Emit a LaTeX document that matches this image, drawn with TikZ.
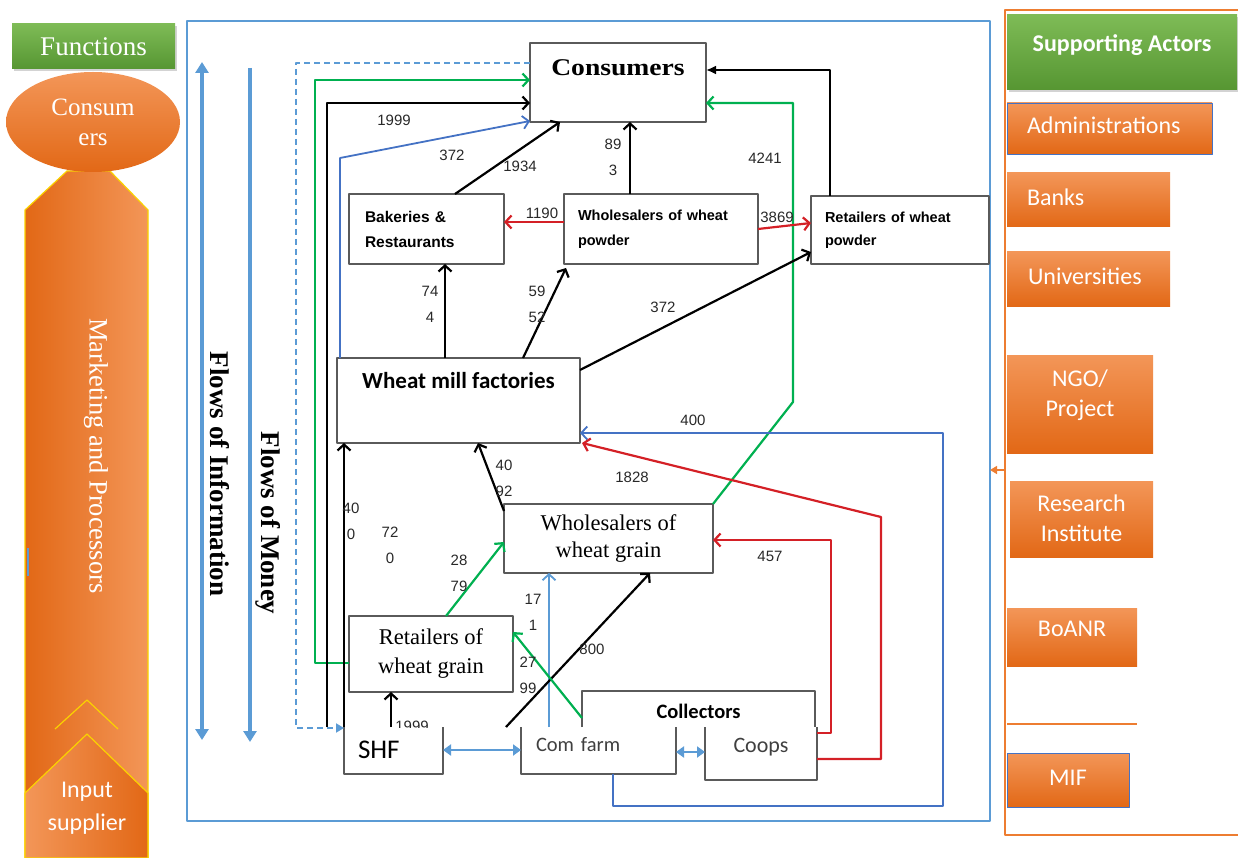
\documentclass[tikz,border=0pt]{standalone}
\usepackage{graphicx}
\usepackage{fontspec}
\setmainfont{Liberation Serif}
\setsansfont{Carlito}
\newfontfamily\arialfont{Liberation Sans}
\usetikzlibrary{arrows.meta, shapes.geometric, shadows}

\definecolor{frameblue}{RGB}{91,155,213}
\definecolor{linkblue}{RGB}{68,114,196}
\definecolor{flowgreen}{RGB}{0,176,80}
\definecolor{flowred}{RGB}{212,32,38}
\definecolor{boxgray}{RGB}{90,90,90}
\definecolor{numgray}{RGB}{40,40,40}
\definecolor{textgray}{RGB}{64,64,64}
\definecolor{orlight}{RGB}{243,150,88}
\definecolor{ordark}{RGB}{226,104,22}
\definecolor{orline}{RGB}{237,125,49}
\definecolor{grlight}{RGB}{126,187,86}
\definecolor{grdark}{RGB}{86,150,50}
\definecolor{edgeyellow}{RGB}{250,210,0}

\begin{document}
\begin{tikzpicture}[
        x = 1pt, y = -1pt, % one unit per pixel, y runs down
        > = {Straight Barb[length=6pt,width=13pt]}, % open arrow head
        line join = round,
        thick % line style
    ]

    \tikzstyle{every node}=[inner sep = 0pt, outer sep = 0pt]
    \tikzstyle{box}=[draw = boxgray, line width = 1.4pt, fill = white, rectangle]
    \tikzstyle{lowbox}=[fill = white, rectangle]
    \tikzstyle{side}=[draw = boxgray, line width = 1.4pt]
    \tikzstyle{num}=[font = \arialfont\fontsize{15}{26}\selectfont, text = numgray, align = center]
    \tikzstyle{blk}=[draw = black, line width = 2.2pt]
    \tikzstyle{grn}=[draw = flowgreen, line width = 2.2pt]
    \tikzstyle{rd}=[draw = flowred, line width = 2.2pt]
    \tikzstyle{blu}=[draw = linkblue, line width = 1.8pt]
    \tikzstyle{lblu}=[draw = frameblue, line width = 1.8pt]
    \tikzstyle{flow}=[draw = frameblue, line width = 3.5pt, > = {Triangle[length=11pt,width=13pt]}]
    \tikzstyle{dbl}=[draw = frameblue, line width = 2.2pt, > = {Triangle[length=8pt,width=11pt]}, <->]
    \tikzstyle{head}=[rectangle, top color = grlight, bottom color = grdark, text = white,
        drop shadow = {opacity = 0.35, shadow xshift = 2pt, shadow yshift = -2pt}]
    \tikzstyle{actor}=[rectangle, top color = orlight, bottom color = ordark, text = white,
        font = \sffamily\fontsize{24}{30}\selectfont]
    \tikzstyle{oneline}=[text height = 16pt, text depth = 5pt]

    \useasboundingbox (0,0) rectangle (1238,858);

    % function column on the left
    \path[draw = edgeyellow, line width = 1.2pt, left color = ordark, right color = orlight]
        (25,210) -- (67,171) -- (110,171) -- (148,210) -- (148,858) -- (25,858) -- cycle;
    \draw[edgeyellow, line width = 1.2pt] (55,729) -- (87,700) -- (118,729);
    \path[draw = edgeyellow, line width = 1.2pt, left color = orlight, right color = ordark]
        (25,793) -- (87,734) -- (148,793) -- (148,858) -- (25,858) -- cycle;
    \draw[frameblue, line width = 1.5pt] (28,548) -- (28,576);
    \node (fun) [head, minimum width = 163pt, minimum height = 45pt, font = \fontsize{27}{30}\selectfont] at (93.5,46.5) {Functions};
    \node (csm) [ellipse, top color = orlight, bottom color = ordark, minimum width = 174pt, minimum height = 100pt,
        align = center, text = white, font = \fontsize{25}{30}\selectfont] at (93,122) {Consum\\ers};
    \node (mkt) [rotate = -90, text = white, font = \fontsize{26.5}{30}\selectfont] at (96,456) {Marketing and Processors};
    \node (inp) [align = center, text = white, font = \sffamily\fontsize{24}{33}\selectfont] at (87,808) {Input\\supplier};

    % chain frame and the two flows
    \draw[frameblue, line width = 1.8pt] (187,21) rectangle (990,821);
    \coordinate (it) at (202,62); \coordinate (ib) at (202,740);
    \coordinate (mt) at (250,68); \coordinate (mb) at (250,742);
    \draw[flow, <->] (it) -- (ib); \draw[flow, ->] (mt) -- (mb);
    \node (fi) [rotate = -90, font = \bfseries\fontsize{27}{30}\selectfont] at (220,474) {Flows of Information};
    \node (fm) [rotate = -90, font = \bfseries\fontsize{27}{30}\selectfont] at (268,523) {Flows of Money};

    % actors of the chain
    \node (cons) [box, minimum width = 176pt, minimum height = 79pt, text height = 18pt, text depth = 31pt,
        font = \bfseries\fontsize{24}{28}\selectfont] at (618,82.5) {\scalebox{1.15}[1]{Consumers}};
    \node (bak) [box, minimum width = 155pt, minimum height = 70pt, text width = 123pt, align = left,
        font = \arialfont\bfseries\fontsize{15.5}{25}\selectfont] at (426.5,229) {Bakeries \&\\Restaurants};
    \node (wwp) [box, minimum width = 194pt, minimum height = 70pt, text width = 166pt, align = left,
        font = \arialfont\bfseries\fontsize{14.5}{25}\selectfont] at (661,229) {Wholesalers of wheat\\powder};
    \node (rwp) [box, minimum width = 178pt, minimum height = 68pt, text width = 150pt, align = left,
        font = \arialfont\bfseries\fontsize{14.5}{23}\selectfont] at (900,230) {Retailers of wheat\\powder};
    \node (wmf) [box, minimum width = 243pt, minimum height = 85pt, text height = 16pt, text depth = 41pt,
        font = \sffamily\bfseries\fontsize{23}{28}\selectfont] at (458.5,400.5) {Wheat mill factories};
    \node (wwg) [box, minimum width = 209pt, minimum height = 69pt, align = center,
        font = \fontsize{22.5}{27}\selectfont] at (608.5,538.5) {Wholesalers of\\wheat grain};
    \node (rwg) [box, minimum width = 164pt, minimum height = 76pt, align = center,
        font = \fontsize{22.5}{29}\selectfont] at (431,654) {Retailers of\\wheat grain};
    \node (coll) [lowbox, minimum width = 233pt, minimum height = 36pt, text height = 22pt, text depth = 3pt,
        font = \sffamily\bfseries\fontsize{20.5}{24}\selectfont] at (698.5,709) {Collectors};
    \node (shf) [lowbox, minimum width = 99pt, minimum height = 47pt, text width = 71pt, align = left,
        text height = 20pt, text depth = 4pt, font = \sffamily\fontsize{27}{30}\selectfont] at (393.5,750.5) {SHF};
    \node (com) [lowbox, minimum width = 155pt, minimum height = 47pt, text width = 125pt, align = left,
        text height = 14pt, text depth = 13pt, text = textgray, font = \sffamily\fontsize{20.5}{24}\selectfont] at (598.5,750.5) {Com farm};
    \node (coops) [lowbox, minimum width = 112pt, minimum height = 53pt, text height = 15pt, text depth = 18pt,
        text = textgray, font = \sffamily\fontsize{22}{26}\selectfont] at (761,753.5) {Coops};
    \draw[side] (coll.south west) |- (coll.north east) -- (coll.south east);
    \draw[side] (shf.north west) |- (shf.south east) -- (shf.north east);
    \draw[side] (com.north west) |- (com.south east) -- (com.north east);
    \draw[side] (coops.north west) |- (coops.south east) -- (coops.north east);

    % flows of product, money and information
    \draw[lblu, dash pattern = on 6pt off 4pt, > = {Triangle[length=8pt,width=9pt]}, ->]
        (cons.west |- 0,63) -| (296,728) -- (shf.west |- 0,728);
    \draw[grn, ->] (rwg.west |- 0,663) -| (315,80) -- (cons.west |- 0,80);
    \draw[blk, ->] (327,0 |- shf.north) |- (cons.west |- 0,103);
    \draw[blk, ->] (shf.north west) -- (shf.north west |- wmf.south);
    \draw[blu, ->] (340,0 |- wmf.north) -- (340,158) -- ([yshift=1pt]cons.south west);
    \draw[blk, ->] (455,0 |- bak.north) -- (560,0 |- cons.south);
    \draw[blk, ->] (630,0 |- wwp.north) -- (630,0 |- cons.south);
    \draw[grn, ->] (wwg.north east) -- (793,402) |- (cons.east |- 0,103);
    \draw[blk, -{Latex[length=10pt,width=9pt]}] (830,0 |- rwp.north) |- (cons.east |- 0,70);
    \draw[rd, ->] (wwp.west |- 0,222) -- (bak.east |- 0,222);
    \draw[rd, ->] (wwp.east |- 0,229) -- (rwp.west |- 0,223);
    \draw[blk, ->] (445,0 |- wmf.north) -- (445,0 |- bak.south);
    \draw[blk, ->] (523,0 |- wmf.north) -- ([shift={(2pt,-4pt)}]wwp.south west);
    \draw[blk, ->] (wmf.east |- 0,370) -- (rwp.west |- 0,252);
    \draw[blu, ->] (613,0 |- com.south) |- (943,806) |- (wmf.east |- 0,433);
    \draw[rd, ->] (coops.east |- 0,759) -| (881,517) -- ([xshift=2pt]wmf.south east);
    \draw[rd, ->] (coops.east |- 0,733) -| (831,540) -- (wwg.east |- 0,540);
    \draw[blk, ->] ([yshift=-7pt]wwg.north west) -- (478,0 |- wmf.south);
    \draw[grn, ->] (446,0 |- rwg.north) -- (wwg.west |- 0,542);
    \draw[lblu, ->] (549,0 |- com.north) -- (549,0 |- wwg.south);
    \draw[blk, ->] (506,0 |- shf.north) -- (650,0 |- wwg.south);
    \draw[grn, ->] (coll.west |- 0,718) -- (rwg.east |- 0,632);
    \draw[blk, ->] (391,0 |- shf.north) -- (391,0 |- rwg.south);
    \draw[dbl] (shf.east |- 0,750) -- (com.west |- 0,750);
    \draw[dbl] (com.east |- 0,752) -- (coops.west |- 0,752);

    % quantities along the flows
    \node (q1) [num] at (394,120) {1999}; \node (q2) [num] at (452,155) {372};
    \node (q3) [num] at (520,166) {1934}; \node (q4) [num] at (613,157.5) {89\\3};
    \node (q5) [num] at (765,158) {4241}; \node (q6) [num] at (542,213) {1190};
    \node (q7) [num] at (777,217) {3869}; \node (q8) [num] at (430,304.5) {74\\4};
    \node (q9) [num] at (537,304.5) {59\\52}; \node (q10) [num] at (663,307) {372};
    \node (q11) [num] at (693,420) {400}; \node (q12) [num] at (632,477) {1828};
    \node (q13) [num] at (504,478.5) {40\\92}; \node (q14) [num] at (351,521.5) {40\\0};
    \node (q15) [num] at (390,545) {72\\0}; \node (q16) [num] at (459,573.5) {28\\79};
    \node (q17) [num] at (533,612.5) {17\\1}; \node (q18) [num] at (528,675) {27\\99};
    \node (q19) [num] at (592,649) {800}; \node (q20) [num] at (770,556) {457};
    \begin{scope} \clip (380,700) rectangle (445,727); \node (q21) [num] at (412,726) {1999}; \end{scope}

    % supporting actors on the right
    \draw[orline, line width = 2pt] (1238,10) -- (1005,10) -- (1005,835) -- (1238,835);
    \draw[orline, line width = 1.5pt] (1007,724) -- (1137,724);
    \coordinate (os) at (1005,470); \coordinate (oe) at (990,470);
    \draw[orline, line width = 1.5pt, -{Triangle[length=7pt,width=8pt]}] (os) -- (oe);
    \node (sup) [head, minimum width = 230pt, minimum height = 75pt, text height = 16pt, text depth = 17pt,
        font = \sffamily\bfseries\fontsize{24}{29}\selectfont] at (1122,52.5) {Supporting Actors};
    \node (adm) [actor, oneline, draw = linkblue, minimum width = 205pt, minimum height = 51pt, text width = 165pt, align = left] at (1109.5,128.5) {Administrations};
    \node (bnk) [actor, oneline, minimum width = 163pt, minimum height = 54pt, text width = 123pt, align = left] at (1088.5,200) {Banks};
    \node (uni) [actor, oneline, minimum width = 163pt, minimum height = 54pt, text width = 121pt, align = left] at (1088.5,279) {Universities};
    \node (ngo) [actor, minimum width = 146pt, minimum height = 98pt, align = center, text height = 40pt, text depth = 16pt] at (1080,404) {NGO/\\Project};
    \node (res) [actor, minimum width = 143pt, minimum height = 76pt, align = center, text height = 46pt, text depth = 2pt] at (1081.5,519) {Research\\Institute};
    \node (boa) [actor, minimum width = 130pt, minimum height = 58pt, text height = 15pt, text depth = 16pt] at (1072,637) {BoANR};
    \node (mif) [actor, oneline, draw = linkblue, minimum width = 122pt, minimum height = 54pt] at (1068,780) {MIF};

\end{tikzpicture}
\end{document}
